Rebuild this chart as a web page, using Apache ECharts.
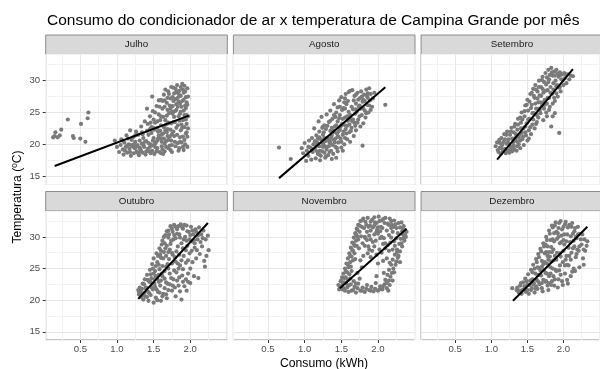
<!DOCTYPE html>
<html>
<head>
<meta charset="utf-8">
<script src="https://cdn.jsdelivr.net/npm/echarts@6/dist/echarts.min.js"></script>
<style>
html,body{margin:0;padding:0;background:#fff}
#chart{width:600px;height:369px}
</style>
</head>
<body>
<div id="chart"></div>
<script>
// valores: [consumo kWh, temperatura C]
var meses = ['Julho', 'Agosto', 'Setembro', 'Outubro', 'Novembro', 'Dezembro'];

var julho = [
  [0.13,21.1],[0.15,21.3],[0.16,21.9],[0.19,21.1],[0.22,21.4],[0.24,22.3],[0.33,23.9],[0.4,21.3],[0.41,21.0],[0.5,20.9],[0.51,23.2],[0.57,20.4],[0.6,24.1],[0.61,25.0],
  [0.97,20.6],[1.0,19.6],[1.03,18.8],[1.05,19.9],[1.06,20.8],[1.08,19.2],[1.09,18.4],[1.1,20.3],[1.12,19.6],[1.13,21.4],[1.14,18.7],[1.16,20.0],[1.17,19.3],[1.18,22.2],[1.19,18.2],[1.2,20.7],[1.21,19.7],
  [1.22,21.1],[1.23,18.6],[1.24,19.4],[1.25,20.4],[1.26,22.0],[1.27,18.9],[1.28,19.9],[1.29,21.5],[1.3,18.3],[1.31,20.6],[1.32,19.2],[1.33,22.8],[1.34,20.1],[1.35,18.7],[1.36,21.0],[1.37,19.6],[1.38,23.6],[1.39,18.4],[1.4,20.5],[1.41,22.1],[1.41,25.6],[1.42,19.3],
  [1.43,21.5],[1.44,18.9],[1.45,24.4],[1.46,20.0],[1.47,22.7],[1.48,19.0],[1.48,27.5],[1.49,25.2],[1.5,21.0],[1.51,18.5],[1.52,23.4],[1.53,20.3],[1.54,26.0],[1.55,19.4],[1.56,22.0],[1.57,24.7],[1.58,18.8],[1.59,20.9],[1.6,27.0],[1.6,23.0],
  [1.61,19.7],[1.62,25.6],[1.63,21.7],[1.64,27.8],[1.65,18.9],[1.66,23.8],[1.67,20.5],[1.68,26.5],[1.69,22.4],[1.7,28.3],[1.7,19.4],[1.71,24.9],[1.72,21.2],[1.73,27.2],[1.74,23.3],[1.74,29.0],[1.75,19.9],
  [1.76,26.0],[1.77,22.0],[1.78,28.0],[1.78,24.3],[1.79,20.4],[1.8,27.1],[1.81,25.4],[1.82,21.5],[1.82,29.3],[1.83,23.0],[1.84,26.7],[1.85,19.4],[1.85,28.4],[1.86,24.8],[1.87,22.2],[1.87,27.6],[1.88,20.3],[1.88,25.9],[1.89,29.5],[1.9,23.8],[1.9,21.2],[1.91,27.0],[1.91,19.1],[1.92,24.6],[1.92,22.7],[1.93,28.3],[1.93,20.0],[1.94,25.7],[1.94,21.7],[1.95,26.6],[1.95,23.2],[1.96,28.8],[1.96,19.6],[1.97,22.5],[1.97,24.4],
  [1.62,26.8],[1.66,28.6],[1.68,24.5],[1.72,26.1],[1.76,27.4],[1.8,28.7],[1.84,27.9],[1.86,26.4],[1.9,28.6],[1.94,27.4],[1.58,25.9],
  [1.45,19.6],[1.5,19.8],[1.55,20.6],[1.6,18.6],[1.65,20.1],[1.7,20.7],[1.75,18.8],[1.8,19.7],[1.62,19.2],[1.57,21.4],[1.52,20.1],[1.47,21.8],[1.36,19.9],[1.26,19.6],
  [1.11,19.0],[1.15,20.9],[1.19,19.9],[1.23,20.0],[1.27,21.6],[1.29,18.6],[1.31,19.5],[1.34,21.9],[1.38,20.4],[1.4,18.9],[1.43,20.2],[1.46,18.6],[1.49,20.6],[1.51,22.3],[1.54,18.9],[1.56,20.9],[1.59,22.1],[1.61,20.4],[1.63,18.5],[1.64,22.7],[1.67,19.6],[1.69,21.3],[1.71,23.3],[1.73,19.1],[1.75,21.6],[1.77,23.5],[1.79,25.2],[1.81,22.6],[1.83,20.2],[1.84,24.4],[1.86,21.1],[1.88,23.1],[1.89,26.8],[1.91,25.3],[1.92,20.7],[1.94,23.9],[1.96,26.2],[1.95,21.9],[1.73,25.6],[1.77,28.9],[1.69,27.3],[1.65,25.9],[1.83,27.3],[1.87,29.0],[1.92,29.2],[1.81,26.3],[1.76,24.8],[1.7,23.4],[1.66,22.2],[1.6,24.4],[1.55,23.6],[1.5,23.9],[1.45,22.4],[1.42,23.2],[1.35,21.6],[1.25,21.4],[1.18,18.8],[1.08,20.6],[1.14,19.8],[1.33,18.9],[1.53,19.5],[1.72,19.8],[1.84,19.0],[1.9,19.6],[1.96,21.2],
  [1.52,25.0],[1.55,22.6],[1.57,26.9],[1.59,23.8],[1.61,21.5],[1.63,24.3],[1.65,26.9],[1.67,23.1],[1.69,25.4],[1.71,27.9],[1.73,22.3],[1.75,25.1],[1.77,26.8],[1.79,23.5],[1.81,28.2],[1.83,25.9],[1.85,23.7],[1.87,25.1],[1.89,22.6],[1.91,28.1],[1.93,26.1],[1.95,24.6],[1.97,27.5],[1.78,21.3],[1.64,20.9],[1.68,21.9],[1.74,20.6],[1.86,20.4],[1.5,22.6],[1.46,23.4]
];

var agosto = [
  [0.65,19.5],[0.81,17.7],[2.1,26.2],[1.79,19.8],
  [0.96,19.4],[0.98,18.6],[1.0,20.2],[1.02,17.4],[1.03,19.0],[1.05,18.2],[1.06,20.6],[1.08,19.5],[1.09,17.6],[1.1,21.0],[1.11,18.8],[1.12,20.0],[1.13,22.5],
  [1.14,19.3],[1.15,17.8],[1.16,21.4],[1.17,20.3],[1.18,18.5],[1.19,23.6],[1.2,19.7],[1.2,22.0],[1.21,17.5],[1.22,20.8],[1.23,24.3],[1.24,18.9],[1.25,21.5],[1.26,19.9],[1.27,23.0],[1.28,17.9],[1.28,20.5],[1.29,22.4],[1.3,24.7],[1.3,19.2],
  [1.31,21.0],[1.32,18.3],[1.33,23.5],[1.34,20.2],[1.35,25.3],[1.35,22.1],[1.36,19.0],[1.37,21.4],[1.38,24.0],[1.39,18.5],[1.4,20.7],[1.4,26.3],[1.41,22.8],[1.42,19.6],[1.43,25.0],[1.44,21.7],[1.45,23.6],[1.45,18.9],[1.46,20.3],[1.47,26.9],[1.48,22.3],[1.48,24.6],[1.49,20.9],[1.5,19.5],[1.5,27.4],
  [1.51,23.2],[1.52,21.5],[1.53,25.7],[1.54,20.0],[1.55,24.2],[1.56,27.9],[1.56,22.4],[1.57,26.3],[1.58,20.8],[1.59,23.7],[1.6,28.2],[1.6,25.1],[1.61,21.9],[1.63,24.0],[1.64,22.6],[1.65,28.5],[1.66,25.5],[1.67,21.3],[1.68,23.4],[1.68,27.6],[1.69,24.8],[1.7,26.4],[1.7,22.2],
  [1.72,28.1],[1.73,23.9],[1.74,25.9],[1.75,27.2],[1.76,22.8],[1.77,28.3],[1.78,24.6],[1.79,26.7],[1.8,23.3],[1.81,27.8],[1.82,25.3],[1.83,24.2],[1.84,28.6],[1.85,26.2],[1.86,27.3],[1.87,25.0],[1.88,28.8],[1.89,26.9],[1.9,27.9],[1.92,25.9],[1.93,27.2],[1.95,28.1],
  [1.22,18.2],[1.25,20.1],[1.33,19.7],[1.37,22.6],[1.42,20.9],[1.46,22.0],[1.52,19.0],[1.55,21.0],[1.58,22.9],[1.62,20.4],[1.43,17.9],[1.37,17.7],[1.29,18.1],[1.18,20.9],[1.26,21.9],[1.33,20.6],
  [1.1,19.2],[1.14,20.5],[1.17,18.9],[1.2,21.1],[1.21,19.0],[1.24,22.6],[1.25,19.6],[1.27,21.0],[1.29,19.6],[1.31,22.9],[1.32,20.8],[1.34,18.8],[1.35,23.7],[1.36,21.0],[1.38,19.9],[1.39,22.2],[1.4,24.6],[1.41,20.3],[1.43,23.0],[1.44,19.4],[1.45,25.8],[1.46,21.2],[1.47,24.1],[1.49,22.8],[1.5,20.4],[1.51,25.4],[1.52,24.0],[1.53,22.0],[1.54,26.6],[1.55,23.0],[1.57,21.7],[1.58,24.4],[1.59,26.8],[1.61,23.1],[1.62,24.6],[1.63,22.1],[1.64,25.9],[1.66,23.9],[1.67,26.9],[1.69,22.9],[1.71,25.1],[1.72,23.4],[1.73,27.0],[1.75,24.4],[1.76,25.6],[1.78,27.5],[1.8,25.6],[1.82,26.8],[1.84,24.9],[1.86,28.0],[1.88,26.1],[1.9,25.4],[1.7,27.8],[1.62,28.4],[1.55,27.2],[1.48,25.9],[1.42,24.3],[1.27,18.7],[1.16,19.8],[1.05,19.6],
  [1.3,20.9],[1.35,20.4],[1.4,21.9],[1.45,21.2],[1.5,23.0],[1.55,25.6],[1.6,24.0],[1.65,23.6],[1.7,25.5],[1.75,26.1],[1.8,27.0],[1.85,27.6],[1.25,22.8],[1.2,18.4],[1.15,20.0]
];

var setembro = [
  [1.06,19.7],[1.08,20.3],[1.09,19.1],[1.1,18.8],[1.11,20.7],[1.12,19.5],[1.13,18.5],[1.14,21.0],[1.15,19.9],[1.16,18.9],[1.17,20.4],[1.18,21.6],[1.19,19.3],[1.2,18.6],[1.21,20.1],[1.22,22.0],[1.23,19.0],[1.24,20.8],[1.25,18.7],[1.26,21.5],[1.27,19.6],[1.28,22.6],[1.29,18.9],[1.3,20.3],[1.31,21.9],[1.32,19.2],[1.33,23.2],[1.34,20.6],[1.35,19.0],[1.36,22.3],[1.37,24.0],[1.38,20.0],[1.39,21.5],[1.4,19.4],[1.41,23.4],[1.42,25.0],[1.43,20.8],[1.44,22.5],[1.45,19.9],
  [1.46,24.4],[1.47,26.1],[1.48,21.4],[1.49,23.3],[1.5,20.6],[1.5,27.0],[1.51,25.3],[1.52,22.2],[1.53,24.0],[1.54,27.9],[1.55,21.6],[1.56,26.2],[1.57,23.1],[1.58,28.7],[1.59,24.9],[1.6,22.5],[1.6,27.3],[1.61,29.3],[1.62,25.6],[1.63,23.5],[1.64,28.3],[1.65,26.6],[1.65,24.2],
  [1.66,30.0],[1.67,27.7],[1.68,24.9],[1.69,29.0],[1.7,26.0],[1.71,30.6],[1.72,28.1],[1.73,25.6],[1.74,27.0],[1.75,31.2],[1.76,29.4],[1.77,26.4],[1.78,28.5],[1.79,31.7],[1.8,27.3],[1.8,30.2],[1.81,25.9],[1.82,29.0],[1.83,32.0],[1.84,27.9],[1.85,30.8],[1.85,24.4],
  [1.86,28.6],[1.87,31.4],[1.88,26.8],[1.89,30.0],[1.9,31.7],[1.9,28.0],[1.91,29.3],[1.92,27.5],[1.93,30.6],[1.94,21.8],[1.95,31.3],[1.95,29.0],[1.96,28.3],[1.97,30.2],[1.98,31.0],[2.0,29.3],[2.01,31.2],[2.02,30.4],[2.04,29.6],[2.06,31.0],[2.08,30.2],[2.1,30.8],[2.13,30.7],[1.88,24.9],[1.83,22.8],
  [1.3,19.5],[1.36,20.4],[1.42,21.8],[1.47,22.8],[1.52,20.9],[1.57,24.9],[1.62,23.2],[1.68,26.6],[1.72,23.8],[1.76,25.0],[1.25,20.0],[1.33,21.0],[1.4,20.6],
  [1.12,20.2],[1.14,19.4],[1.17,19.0],[1.19,20.8],[1.21,21.5],[1.23,20.3],[1.26,19.2],[1.27,22.0],[1.29,20.9],[1.31,19.8],[1.32,22.8],[1.34,21.6],[1.36,19.7],[1.37,23.1],[1.38,21.1],[1.4,24.2],[1.41,22.5],[1.43,23.9],[1.44,21.2],[1.46,25.2],[1.47,21.9],[1.49,26.2],[1.51,23.9],[1.53,26.7],[1.54,22.7],[1.55,25.7],[1.56,28.1],[1.58,23.9],[1.59,27.6],[1.61,26.4],[1.62,28.6],[1.63,24.6],[1.64,27.2],[1.66,29.0],[1.67,25.4],[1.69,27.6],[1.7,30.1],[1.71,28.7],[1.73,29.8],[1.74,26.2],[1.75,28.4],[1.77,30.5],[1.78,27.3],[1.79,29.8],[1.81,30.9],[1.82,28.1],[1.84,31.3],[1.86,29.6],[1.87,27.3],[1.88,30.8],[1.9,29.1],[1.92,31.1],[1.94,28.9],[1.96,30.9],[1.99,30.1],[2.03,31.0],[1.85,26.4],[1.8,25.4],[1.77,24.4],[1.72,26.6],[1.66,25.6]
];

var outubro = [
  [1.29,21.6],[1.3,20.9],[1.31,22.0],[1.32,21.3],[1.33,20.5],[1.34,21.8],[1.35,22.6],[1.36,20.1],[1.37,21.1],[1.38,23.3],[1.39,20.6],[1.4,22.0],[1.41,24.0],[1.42,21.4],[1.43,19.9],[1.44,22.9],[1.45,24.8],[1.46,20.8],[1.47,23.5],[1.48,25.7],[1.49,21.7],[1.5,19.6],[1.5,26.6],[1.51,22.6],[1.52,24.6],[1.53,20.4],[1.54,27.4],[1.55,23.4],[1.56,21.3],[1.57,25.6],[1.58,28.2],[1.59,22.3],[1.6,19.9],[1.6,26.7],[1.61,24.2],[1.62,29.4],[1.63,21.0],[1.64,27.6],[1.65,23.4],[1.66,30.3],[1.67,25.3],[1.68,20.3],[1.68,28.6],[1.69,22.6],[1.7,31.0],[1.71,26.5],[1.72,24.2],[1.73,31.7],[1.74,29.4],[1.75,21.5],[1.75,25.8],[1.76,30.8],[1.77,23.3],[1.78,31.9],[1.79,26.8],[1.8,29.8],[1.8,20.6],[1.81,24.4],[1.82,31.2],[1.83,28.5],[1.84,22.3],[1.85,30.4],[1.86,25.5],[1.87,32.0],[1.88,20.1],[1.88,29.0],[1.89,23.9],[1.9,31.3],[1.91,27.0],[1.92,22.2],[1.93,30.0],[1.94,25.9],[1.95,31.8],[1.95,21.5],[1.96,28.6],[1.97,24.2],[1.98,30.8],[1.99,27.4],[2.0,22.7],[2.01,31.6],[2.02,29.3],[2.03,26.0],[2.04,30.4],[2.05,23.8],[2.06,28.3],[2.07,31.2],[2.08,26.6],[2.1,29.6],[2.11,23.5],[2.12,31.5],[2.13,27.3],[2.15,30.4],[2.16,28.5],[2.18,31.0],[2.19,26.2],[2.2,25.3],[2.21,29.6],[2.22,27.0],[2.24,30.2],[2.25,27.9],
  [1.45,23.0],[1.5,24.2],[1.55,26.0],[1.6,27.8],[1.65,29.0],[1.7,29.9],[1.57,24.0],[1.52,22.1],[1.62,25.4],[1.67,27.0],[1.72,28.0],[1.77,29.6],[1.82,30.5],[1.65,21.9],[1.72,22.5],[1.78,24.7],
  [1.3,21.3],[1.33,21.7],[1.35,20.8],[1.37,22.5],[1.39,21.9],[1.41,20.5],[1.42,23.2],[1.44,21.1],[1.46,24.1],[1.47,22.0],[1.49,25.0],[1.51,23.3],[1.53,25.4],[1.54,21.7],[1.56,27.0],[1.57,22.9],[1.58,24.9],[1.59,27.2],[1.61,28.8],[1.62,23.8],[1.63,26.6],[1.64,30.0],[1.66,28.2],[1.67,22.8],[1.68,30.9],[1.69,25.7],[1.7,27.6],[1.71,30.4],[1.73,28.9],[1.74,23.5],[1.75,31.3],[1.76,27.2],[1.78,30.3],[1.79,22.0],[1.8,31.6],[1.81,27.7],[1.83,25.8],[1.84,31.7],[1.85,23.6],[1.86,29.9],[1.88,26.3],[1.89,31.5],[1.9,24.9],[1.91,29.6],[1.92,31.9],[1.94,27.9],[1.96,30.9],[1.97,26.3],[1.99,29.6],[2.0,25.0],[2.02,27.8],[2.03,31.0],[2.05,29.5],[2.08,30.8],[2.09,27.9],[2.14,29.2],[1.86,21.4],[1.9,22.9],[1.94,23.3],[1.7,21.6],[1.62,20.6],[1.55,20.0],
  [1.6,23.1],[1.65,24.6],[1.7,25.0],[1.75,27.5],[1.8,26.1],[1.85,27.2],[1.9,28.2],[1.95,29.4],[2.0,30.3],[2.06,29.0],[1.84,25.0],[1.76,22.3],[1.58,21.2],[1.48,22.6],[1.53,23.8],[2.11,30.3],[2.17,29.8],[1.97,22.9],[1.82,23.1],[1.67,20.9]
];

var novembro = [
  [1.46,22.4],[1.48,21.9],[1.49,23.0],[1.5,22.2],[1.51,23.6],[1.52,21.7],[1.53,24.2],[1.54,22.8],[1.55,25.0],[1.56,23.6],[1.57,25.8],[1.58,24.4],[1.59,26.6],[1.6,25.2],[1.61,27.4],[1.62,26.0],[1.63,28.3],[1.64,26.9],[1.65,29.1],[1.66,27.8],[1.67,29.9],[1.68,28.6],[1.69,30.6],[1.7,29.4],[1.71,31.3],[1.72,30.1],[1.73,31.9],[1.75,30.8],[1.76,32.5],[1.78,31.6],[1.8,32.9],[1.74,28.2],[1.69,26.5],[1.64,24.6],[1.59,23.2],
  [1.55,21.5],[1.58,22.0],[1.6,21.3],[1.63,22.5],[1.66,21.6],[1.68,22.1],[1.7,21.2],[1.73,22.6],[1.76,21.5],[1.79,22.0],[1.82,21.3],[1.85,22.4],[1.88,21.6],[1.91,22.1],[1.94,21.4],[1.97,22.7],[2.0,21.5],[2.03,22.2],[2.06,21.7],[2.09,22.5],[2.12,21.9],[2.14,21.5],[2.15,23.1],
  [2.1,23.2],[2.13,24.0],[2.15,24.8],[2.17,23.7],[2.18,25.6],[2.2,26.4],[2.21,25.0],[2.23,27.2],[2.25,26.1],[2.26,28.0],[2.28,27.0],[2.29,28.9],[2.3,26.0],[2.31,29.7],[2.33,28.5],[2.34,30.4],[2.36,29.4],[2.37,31.0],[2.38,30.0],[2.39,30.8],[2.35,31.7],[2.32,32.3],
  [1.83,32.4],[1.86,33.0],[1.89,31.8],[1.92,32.7],[1.95,33.1],[1.98,32.2],[2.01,33.2],[2.04,31.6],[2.07,32.8],[2.1,33.0],[2.13,32.1],[2.16,32.9],[2.19,31.9],[2.22,32.6],[2.25,31.4],[2.28,32.2],[1.9,31.0],[2.0,30.5],[2.2,30.8],
  [1.85,29.5],[1.95,28.5],[2.05,27.5],[1.9,26.8],[2.1,29.0],[1.8,27.0],[2.0,25.8],[2.15,27.8],[1.78,25.2],[1.75,23.4],[2.08,24.3],[1.98,23.8],[2.22,29.3],[1.88,30.2],[2.03,29.8],
  [1.85,30.8],[1.9,29.6],[1.95,30.4],[2.0,31.5],[2.05,30.0],[2.1,28.2],[2.15,30.3],[1.82,28.6],[1.92,27.8],[2.02,28.0],[2.12,26.6],[2.2,28.0],[2.25,29.8],[2.18,31.4],
  [1.47,21.7],[1.5,23.0],[1.52,22.6],[1.54,23.5],[1.56,24.6],[1.57,22.6],[1.59,25.6],[1.61,24.1],[1.62,27.0],[1.63,25.3],[1.65,27.9],[1.66,26.3],[1.67,28.9],[1.68,27.4],[1.7,30.4],[1.71,28.6],[1.72,31.1],[1.73,29.6],[1.75,31.8],[1.77,30.1],[1.78,32.6],[1.79,29.0],[1.81,31.4],[1.82,30.0],[1.84,31.9],[1.87,31.6],[1.9,32.4],[1.93,31.5],[1.96,32.3],[1.99,31.2],[2.02,32.5],[2.06,31.4],[2.09,32.2],[2.12,31.0],[2.15,31.9],[2.18,32.5],[2.21,31.6],[2.24,32.0],[2.27,30.6],[2.3,31.5],[2.33,30.9],[2.35,29.8],[2.32,29.0],[2.3,27.7],[2.27,26.7],[2.24,25.6],[2.22,24.4],[2.19,24.3],[2.16,22.4],[2.12,22.7],[2.07,22.2],[2.02,21.7],[1.96,21.8],[1.9,21.5],[1.84,21.8],[1.78,21.5],[1.72,21.9],[1.64,21.5],[1.6,22.3],[1.53,21.9],[2.37,30.3],[2.34,31.3],[1.87,28.5],[1.97,29.4],[2.07,28.9],[2.17,29.1],[1.95,31.8],[2.05,32.6],
  [1.83,29.8],[1.88,28.0],[1.93,29.2],[1.98,30.8],[2.03,30.9],[2.08,29.8],[2.13,28.7],[2.18,29.9],[2.23,28.6],[1.98,27.2],[2.07,26.2],[2.16,25.9],[1.86,27.4],[1.76,26.3],[1.72,24.3],[1.67,23.0],[1.62,23.4],[1.7,22.6],[2.2,23.1],[2.26,27.6]
];

var dezembro = [
  [1.29,21.9],[1.35,21.6],[1.38,21.2],[1.4,22.3],[1.42,21.0],[1.44,22.8],[1.45,21.7],[1.47,23.4],[1.48,21.3],[1.5,22.5],[1.51,24.1],[1.52,21.0],[1.54,23.1],[1.55,24.8],[1.56,21.9],[1.58,25.6],[1.59,22.7],[1.6,21.2],[1.61,24.2],[1.62,26.5],[1.63,23.2],[1.64,21.8],[1.65,27.3],[1.66,25.1],[1.67,22.5],[1.68,28.1],[1.69,23.9],[1.7,26.2],[1.71,21.4],[1.72,29.0],[1.73,24.8],[1.74,27.4],[1.75,22.9],[1.76,30.0],[1.77,25.8],[1.78,28.5],[1.79,21.6],[1.8,31.0],[1.8,23.8],[1.81,26.9],[1.82,29.5],[1.83,22.4],[1.84,31.8],[1.85,25.0],[1.86,28.0],[1.87,30.6],[1.88,23.3],[1.89,32.3],[1.9,26.4],[1.91,29.7],[1.92,22.0],[1.93,31.4],[1.94,24.7],[1.95,27.4],[1.96,32.5],[1.97,30.2],[1.98,23.0],[1.99,26.0],[2.0,31.6],[2.01,28.8],[2.02,24.2],[2.03,32.4],[2.04,27.0],[2.05,30.4],[2.06,22.6],[2.07,25.5],[2.08,31.9],[2.09,29.2],[2.1,23.8],[2.11,27.5],[2.12,32.2],[2.13,30.5],[2.14,25.0],[2.15,28.5],[2.16,31.4],[2.17,26.8],[2.18,29.8],[2.2,31.6],[2.21,27.8],[2.22,25.2],[2.23,30.5],[2.25,28.8],[2.27,26.6],[2.29,29.6],[2.3,27.8],[2.32,28.6],[2.33,29.3],[2.28,25.6],
  [1.57,23.3],[1.62,22.2],[1.67,24.0],[1.72,23.2],[1.77,24.2],[1.82,25.2],[1.86,23.8],[1.7,21.9],[1.78,22.3],[1.9,24.6],[1.95,25.5],[1.64,25.2],[1.74,26.0],[1.84,27.6],
  [1.36,22.0],[1.39,21.5],[1.41,22.7],[1.43,21.6],[1.46,22.2],[1.49,23.0],[1.5,21.6],[1.53,22.4],[1.55,21.6],[1.57,24.4],[1.58,22.5],[1.6,25.0],[1.61,21.8],[1.63,26.0],[1.65,22.9],[1.66,26.8],[1.68,24.7],[1.69,27.7],[1.7,22.7],[1.72,25.7],[1.73,28.5],[1.75,24.3],[1.76,27.6],[1.77,29.5],[1.79,26.4],[1.8,22.7],[1.81,30.5],[1.82,24.2],[1.83,28.4],[1.85,31.5],[1.86,26.3],[1.87,29.3],[1.88,31.8],[1.89,24.8],[1.9,30.8],[1.91,27.5],[1.93,30.0],[1.94,32.2],[1.96,26.9],[1.97,29.2],[1.98,31.2],[2.0,27.8],[2.01,30.4],[2.02,32.0],[2.04,29.3],[2.05,25.6],[2.06,31.5],[2.08,27.0],[2.1,30.1],[2.11,31.6],[2.13,28.2],[2.15,30.9],[2.17,30.0],[2.19,28.0],[2.2,30.4],[2.24,29.6],[2.26,30.4],[2.28,28.0],[2.12,24.5],[2.05,23.2],[1.99,22.4],[1.93,23.3],[1.87,22.3],[1.84,23.0],[1.76,23.0],
  [1.75,28.8],[1.8,27.6],[1.85,29.6],[1.88,27.0],[1.92,30.6],[1.95,29.0],[2.0,29.5],[2.03,26.4],[2.07,28.3],[2.1,26.4],[2.14,29.4],[2.18,27.3],[2.22,28.5],[1.83,26.1],[1.78,27.0],[1.7,25.3],[1.65,24.0],[1.96,24.0],[2.02,25.5],[2.16,24.6]
];

// retas de regressao (inicio e fim)
var julhoReta = [[0.15,16.6],[1.98,24.5]];
var agostoReta = [[0.65,14.7],[2.1,28.95]];
var setembroReta = [[1.08,17.6],[2.13,31.8]];
var outubroReta = [[1.29,20.2],[2.24,32.2]];
var novembroReta = [[1.48,21.9],[2.39,31.3]];
var dezembroReta = [[1.3,19.9],[2.33,31.6]];

var xTicks = [0.5, 1.0, 1.5, 2.0];
var yTicks = [15, 20, 25, 30];

var pontos = [julho, agosto, setembro, outubro, novembro, dezembro];
var retas = [julhoReta, agostoReta, setembroReta, outubroReta, novembroReta, dezembroReta];

var mychart = echarts.init(document.getElementById('chart'));

var fonte = 'Liberation Sans, Arial, sans-serif';
var xMin = 0.028, xMax = 2.505, yMin = 13.7, yMax = 34.1;
var colLeft = [45.7, 233.4, 421.1];
var panelW = 181.6;
var rowTop = [54.5, 211];
var panelH = [130, 129];
var stripH = 19.5;
var borda = '#8c8c8c';

var grids = [], xAxes = [], yAxes = [], series = [], graphics = [];

for (var i = 0; i < 6; i++) {
  var col = i % 3, row = Math.floor(i / 3);
  grids.push({
    left: colLeft[col], top: rowTop[row], width: panelW, height: panelH[row],
    show: true, borderColor: borda, borderWidth: 1, backgroundColor: '#fff'
  });
  // eixo principal (rotulos, ticks e grade maior)
  xAxes.push({
    type: 'value', gridIndex: i, min: xMin, max: xMax, minInterval: 0.5, maxInterval: 0.5, z: 1,
    axisLine: {show: false},
    axisTick: {show: row == 1, length: 3, customValues: xTicks, lineStyle: {color: '#333'}},
    axisLabel: {show: row == 1, customValues: xTicks, margin: 4, color: '#4d4d4d', fontSize: 9.6, fontFamily: fonte,
      formatter: function (v) { return v.toFixed(1); }},
    splitLine: {show: true, lineStyle: {color: '#e6e6e6', width: 1}}
  });
  yAxes.push({
    type: 'value', gridIndex: i, min: yMin, max: yMax, minInterval: 5, maxInterval: 5, z: 1,
    axisLine: {show: false},
    axisTick: {show: col == 0, length: 3, customValues: yTicks, lineStyle: {color: '#333'}},
    axisLabel: {show: col == 0, customValues: yTicks, margin: 5.5, color: '#4d4d4d', fontSize: 9.6, fontFamily: fonte},
    splitLine: {show: true, lineStyle: {color: '#e6e6e6', width: 1}}
  });
  series.push({
    type: 'scatter', xAxisIndex: i, yAxisIndex: i, data: pontos[i],
    symbolSize: 4.2, itemStyle: {color: '#7a7a7a', opacity: 1}, silent: true
  });
  series.push({
    type: 'line', xAxisIndex: i, yAxisIndex: i, data: retas[i], symbol: 'none', z: 3,
    lineStyle: {color: '#000', width: 2}, silent: true
  });
  // faixa com o nome do mes
  graphics.push({
    type: 'rect', shape: {x: colLeft[col], y: rowTop[row] - stripH, width: panelW, height: stripH},
    style: {fill: '#d9d9d9', stroke: borda, lineWidth: 1}
  });
  graphics.push({
    type: 'text', x: colLeft[col] + panelW / 2, y: rowTop[row] - stripH / 2,
    style: {text: meses[i], align: 'center', verticalAlign: 'middle', fontSize: 9.8, fontFamily: fonte, fill: '#1a1a1a'}
  });
}

// grade menor em eixos separados
for (var j = 0; j < 6; j++) {
  xAxes.push({
    type: 'value', gridIndex: j, min: xMin, max: xMax, minInterval: 0.25, maxInterval: 0.25, z: 0,
    axisLine: {show: false}, axisTick: {show: false}, axisLabel: {show: false},
    splitLine: {show: true, lineStyle: {color: '#f2f2f2', width: 1}}
  });
  yAxes.push({
    type: 'value', gridIndex: j, min: yMin, max: yMax, minInterval: 2.5, maxInterval: 2.5, z: 0,
    axisLine: {show: false}, axisTick: {show: false}, axisLabel: {show: false},
    splitLine: {show: true, lineStyle: {color: '#f2f2f2', width: 1}}
  });
}

graphics.push({
  type: 'text', x: 47, y: 20.5,
  style: {text: 'Consumo do condicionador de ar x temperatura de Campina Grande por mês', align: 'left', verticalAlign: 'middle',
    fontSize: 15.5, fontFamily: fonte, fill: '#000'}
});
graphics.push({
  type: 'text', x: 324, y: 363.5,
  style: {text: 'Consumo (kWh)', align: 'center', verticalAlign: 'middle', fontSize: 12.2, fontFamily: fonte, fill: '#000'}
});
graphics.push({
  type: 'text', x: 18, y: 197, rotation: Math.PI / 2,
  style: {text: 'Temperatura (ºC)', align: 'center', verticalAlign: 'middle', fontSize: 12.2, fontFamily: fonte, fill: '#000'}
});

option = {
  animation: false,
  backgroundColor: '#fff',
  grid: grids,
  xAxis: xAxes,
  yAxis: yAxes,
  series: series,
  graphic: graphics
};
mychart.setOption(option);
</script>
</body>
</html>
